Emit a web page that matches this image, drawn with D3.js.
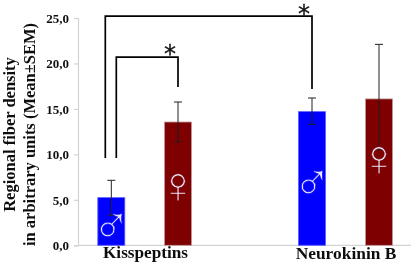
<!DOCTYPE html>
<html><head><meta charset="utf-8">
<script src="https://cdn.jsdelivr.net/npm/d3@7"></script>
<style>html,body{margin:0;padding:0;background:#fff}svg{display:block}text{font-family:"Liberation Serif",serif;font-weight:bold;fill:#111}</style>
</head><body><svg id="c" width="414" height="265"></svg>
<script>
const barIds=["kM","kF","nM","nF"];
const means=[5.24,13.56,14.7,16.1];
const errUp=[7.15,15.76,16.2,22.1];
const errLow=[3.3,11.4,13.3,10.5];
const barColors=["#0000ff","#7f0000","#0000ff","#7f0000"];
const barEdge=["#5a5aff","#c09a9a","#5a5aff","#c09a9a"];
const symbols=["♂","♀","♂","♀"];
const symbolValues=[0.3,4.65,5.0,7.6];
const groupLabels=["Kisspeptins","Neurokinin B"];
const yTicks=[0,5,10,15,20,25];
const innerBracket={top:20.7,leftEnd:9.6,rightEnd:17.4};
const outerBracket={top:25.2,leftEnd:9.6,rightEnd:17.2};

const svg=d3.select("#c");
svg.append("defs").append("filter").attr("id","soft").attr("x","-5%").attr("y","-5%").attr("width","110%").attr("height","110%")
  .append("feGaussianBlur").attr("stdDeviation",0.35);
const root=svg.append("g").attr("filter","url(#soft)");

const y=d3.scaleLinear().domain([0,25]).range([245.3,18]);
const cx=d3.scaleOrdinal().domain(barIds).range([111.3,178,312,379]);
const bw=27;

const ax=root.append("g").attr("transform","translate(78,0)")
  .call(d3.axisLeft(y).tickValues(yTicks).tickSize(4).tickFormat(d=>d3.format(".1f")(d).replace(".",",")));
ax.selectAll("path,line").attr("stroke","#d4d4d4").attr("stroke-width",1.2);
ax.selectAll("text").attr("font-size",13).attr("x",-9).attr("dy","0.32em").attr("fill","#222");
root.append("line").attr("x1",78).attr("x2",411).attr("y1",y(0)).attr("y2",y(0)).attr("stroke","#d4d4d4").attr("stroke-width",1.2);

root.selectAll("rect.bar").data(barIds).join("rect").attr("class","bar")
  .attr("x",d=>cx(d)-bw/2).attr("width",bw)
  .attr("y",(d,i)=>y(means[i])).attr("height",(d,i)=>y(0)-y(means[i]))
  .attr("fill",(d,i)=>barColors[i]).attr("stroke",(d,i)=>barEdge[i]).attr("stroke-width",0.8);

const er=root.selectAll("g.err").data(barIds).join("g").attr("class","err");
er.append("line").attr("x1",d=>cx(d)).attr("x2",d=>cx(d)).attr("y1",(d,i)=>y(errUp[i])).attr("y2",(d,i)=>y(errLow[i])).attr("stroke","#222").attr("stroke-width",1);
[errUp,errLow].forEach(a=>er.append("line").attr("x1",d=>cx(d)-4).attr("x2",d=>cx(d)+4).attr("y1",(d,i)=>y(a[i])).attr("y2",(d,i)=>y(a[i])).attr("stroke","#222").attr("stroke-width",1));

root.selectAll("text.sym").data(barIds).join("text").attr("class","sym")
  .attr("x",d=>cx(d)).attr("y",(d,i)=>y(symbolValues[i])).attr("text-anchor","middle")
  .attr("font-size",52).style("font-family","Liberation Sans").style("font-weight","normal").style("fill","#e8e8ff")
  .style("stroke",(d,i)=>barColors[i]).style("stroke-width",0.7).text((d,i)=>symbols[i]);

function bracket(b,xl,xr){
  const p=d3.path();p.moveTo(xl,y(b.leftEnd));p.lineTo(xl,y(b.top));p.lineTo(xr,y(b.top));p.lineTo(xr,y(b.rightEnd));
  root.append("path").attr("d",p.toString()).attr("fill","none").attr("stroke","#000").attr("stroke-width",1.7);
}
bracket(outerBracket,cx("kM")-6,cx("nM"));
bracket(innerBracket,cx("kM")+5,cx("kF"));
root.append("text").attr("x",170).attr("y",62).attr("text-anchor","middle").attr("font-size",24).style("font-family","DejaVu Sans").style("font-weight","normal").style("stroke","#111").style("stroke-width",0.3).text("*");
root.append("text").attr("x",304).attr("y",22).attr("text-anchor","middle").attr("font-size",24).style("font-family","DejaVu Sans").style("font-weight","normal").style("stroke","#111").style("stroke-width",0.3).text("*");

root.append("text").attr("x",145.5).attr("y",258).attr("text-anchor","middle").attr("font-size",17.2).text(groupLabels[0]);
root.append("text").attr("x",346).attr("y",259).attr("text-anchor","middle").attr("font-size",17.4).text(groupLabels[1]);

root.append("text").attr("transform","translate(15,134.5) rotate(-90)").attr("text-anchor","middle").attr("font-size",16.5).text("Regional fiber density");
root.append("text").attr("transform","translate(35,134.5) rotate(-90)").attr("text-anchor","middle").attr("font-size",16.5).text("in arbitrary units (Mean±SEM)");
</script></body></html>
